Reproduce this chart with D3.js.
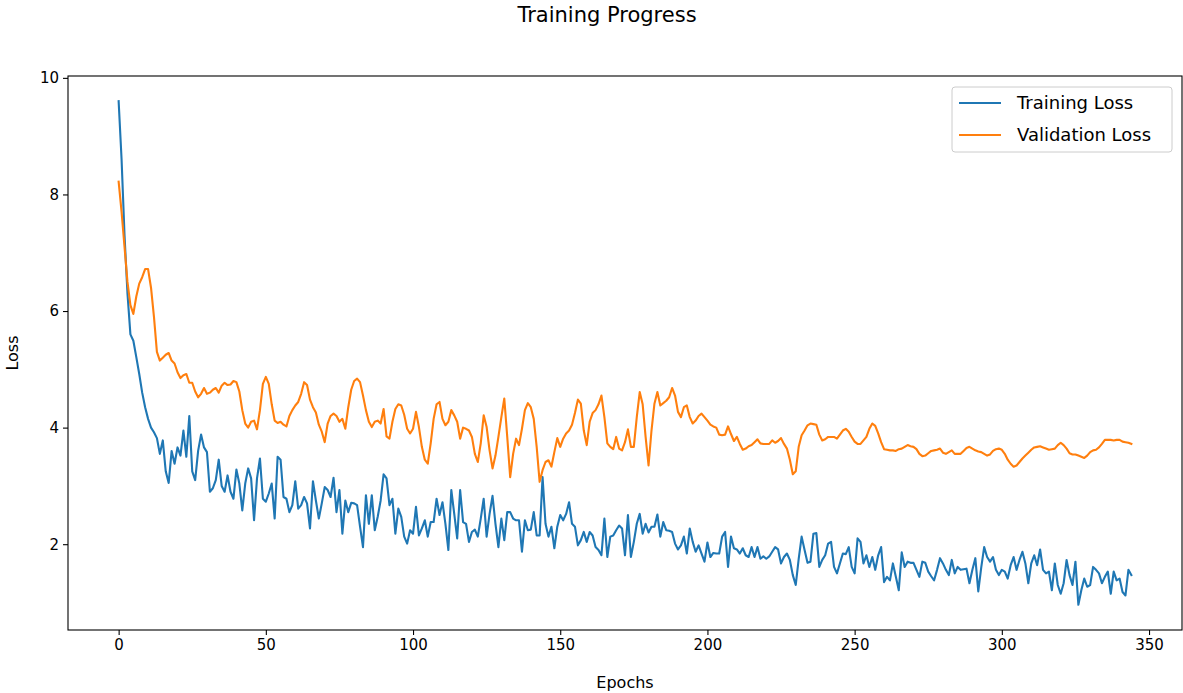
<!DOCTYPE html>
<html>
<head>
<meta charset="utf-8">
<script src="https://cdn.jsdelivr.net/npm/d3@7"></script>
<style>
  html, body { margin: 0; padding: 0; background: #fff; }
  svg { display: block; font-family: "DejaVu Sans", sans-serif; }
</style>
</head>
<body>
<svg id="chart" width="1183" height="693"></svg>
<script>
const titleText = "Training Progress";
const xLabel = "Epochs";
const yLabel = "Loss";
const seriesNames = ["Training Loss", "Validation Loss"];
const seriesColors = ["#1f77b4", "#ff7f0e"];
const xTicks = [0, 50, 100, 150, 200, 250, 300, 350];
const yTicks = [2, 4, 6, 8, 10];

const trainingLoss = [
9.6,8.6,7.3,6.3,5.6,5.49,5.21,4.92,4.6,4.35,
4.15,4.0,3.92,3.82,3.55,3.78,3.25,3.05,3.6,3.38,
3.66,3.52,3.95,3.5,4.2,3.25,3.1,3.6,3.88,3.66,
3.58,2.9,2.96,3.1,3.45,3.0,2.9,3.18,2.9,2.78,
3.28,3.04,2.58,3.04,3.3,3.13,2.41,3.13,3.47,2.78,
2.73,2.87,3.04,2.44,3.5,3.45,2.81,2.78,2.55,2.67,
3.08,2.61,2.67,2.81,2.7,2.27,3.08,2.75,2.44,2.7,
2.98,2.93,2.81,3.14,2.55,2.93,2.18,2.75,2.55,2.71,
2.7,2.67,2.3,1.95,2.84,2.35,2.84,2.24,2.47,2.75,
3.2,3.13,2.67,2.78,2.18,2.61,2.47,2.13,2.01,2.24,
2.18,2.64,2.15,2.27,2.41,2.13,2.38,2.38,2.78,2.5,
2.72,2.35,1.9,2.93,2.52,2.1,2.93,2.38,2.35,2.04,
2.21,2.25,2.13,2.44,2.78,2.13,2.52,2.83,2.35,1.95,
2.44,2.07,2.55,2.55,2.44,2.41,2.41,1.87,2.41,2.24,
2.25,2.55,2.15,2.15,3.15,2.35,2.13,2.3,1.93,2.3,
2.5,2.41,2.52,2.72,2.35,2.3,1.98,2.07,2.21,2.04,
2.21,2.15,1.95,1.9,1.81,2.44,1.78,2.13,2.15,2.24,
2.32,2.27,1.81,2.5,1.78,2.04,2.35,2.52,2.18,2.35,
2.2,2.3,2.3,2.51,2.13,2.38,2.24,2.23,2.21,2.01,
1.91,1.98,2.13,1.84,2.27,2.04,1.87,1.98,1.84,1.7,
2.03,1.78,1.85,1.84,1.84,2.13,2.21,1.61,2.13,1.93,
1.91,1.84,1.93,1.81,1.78,1.95,1.78,1.95,1.75,1.79,
1.75,1.79,1.87,1.95,1.91,1.67,1.78,1.84,1.73,1.47,
1.3,1.75,2.13,1.9,1.68,1.7,2.18,2.19,1.61,1.73,
1.81,2.01,2.04,1.61,1.5,1.67,1.84,1.83,1.95,1.61,
1.5,2.1,2.04,1.67,1.81,1.61,1.78,1.56,1.81,1.95,
1.35,1.44,1.38,1.67,1.44,1.21,1.86,1.61,1.7,1.68,
1.68,1.56,1.44,1.7,1.68,1.53,1.45,1.38,1.56,1.76,
1.67,1.56,1.47,1.73,1.5,1.61,1.56,1.57,1.58,1.33,
1.56,1.76,1.19,1.6,1.95,1.78,1.7,1.78,1.56,1.47,
1.56,1.53,1.41,1.64,1.78,1.56,1.73,1.87,1.67,1.33,
1.67,1.81,1.64,1.91,1.56,1.5,1.53,1.21,1.67,1.3,
1.15,1.33,1.73,1.47,1.3,1.7,0.96,1.21,1.41,1.27,
1.3,1.61,1.56,1.5,1.33,1.44,1.53,1.15,1.53,1.38,
1.41,1.18,1.12,1.56,1.47
];

const validationLoss = [
8.22,7.7,7.1,6.5,6.1,5.95,6.25,6.47,6.58,6.72,
6.72,6.4,5.9,5.3,5.15,5.2,5.25,5.28,5.15,5.1,
4.95,4.85,4.9,4.92,4.77,4.77,4.62,4.52,4.58,4.68,
4.58,4.6,4.65,4.68,4.6,4.72,4.77,4.73,4.74,4.8,
4.78,4.62,4.3,4.07,4.0,4.1,4.12,3.97,4.3,4.75,
4.87,4.75,4.4,4.12,4.08,4.1,4.05,4.02,4.2,4.3,
4.38,4.44,4.58,4.78,4.73,4.48,4.35,4.26,4.05,3.93,
3.75,4.07,4.2,4.24,4.2,4.1,4.15,3.98,4.35,4.65,
4.8,4.84,4.78,4.55,4.3,4.1,4.01,4.1,4.12,4.07,
4.32,3.85,3.81,4.1,4.32,4.4,4.38,4.22,3.98,3.9,
3.98,4.27,4.01,3.67,3.45,3.38,3.73,4.15,4.4,4.44,
4.15,4.04,4.1,4.3,4.21,4.1,3.81,4.0,3.98,3.95,
3.84,3.55,3.41,3.73,4.21,4.01,3.61,3.3,3.52,3.84,
4.18,4.5,3.84,3.15,3.55,3.81,3.7,3.98,4.3,4.42,
4.35,4.15,3.67,3.07,3.27,3.41,3.44,3.33,3.58,3.82,
3.67,3.81,3.9,3.95,4.05,4.25,4.48,4.41,3.95,3.7,
4.1,4.25,4.3,4.4,4.55,4.18,3.73,3.67,3.63,3.84,
3.64,3.61,3.75,3.97,3.67,3.67,4.18,4.61,4.4,3.84,
3.35,3.95,4.41,4.61,4.38,4.42,4.46,4.52,4.68,4.55,
4.27,4.18,4.35,4.38,4.18,4.07,4.12,4.2,4.24,4.18,
4.12,4.05,4.02,4.0,3.88,3.87,3.88,4.02,3.89,3.77,
3.84,3.72,3.62,3.64,3.68,3.7,3.75,3.8,3.73,3.72,
3.72,3.72,3.78,3.74,3.77,3.82,3.72,3.64,3.45,3.2,
3.25,3.67,3.87,3.95,4.04,4.07,4.06,4.05,3.88,3.78,
3.8,3.84,3.84,3.84,3.81,3.88,3.95,3.98,3.93,3.84,
3.76,3.72,3.72,3.78,3.84,3.98,4.07,4.03,3.9,3.75,
3.63,3.62,3.61,3.61,3.6,3.63,3.64,3.67,3.7,3.68,
3.67,3.63,3.55,3.51,3.52,3.56,3.6,3.61,3.62,3.64,
3.57,3.55,3.58,3.61,3.55,3.55,3.55,3.6,3.65,3.67,
3.64,3.61,3.59,3.58,3.55,3.52,3.54,3.6,3.63,3.64,
3.62,3.55,3.45,3.38,3.33,3.35,3.41,3.47,3.52,3.57,
3.62,3.66,3.67,3.68,3.66,3.64,3.62,3.63,3.64,3.7,
3.74,3.7,3.64,3.56,3.54,3.54,3.52,3.5,3.48,3.52,
3.58,3.61,3.62,3.66,3.72,3.79,3.79,3.79,3.78,3.79,
3.79,3.76,3.75,3.74,3.72
];

const epochs = trainingLoss.map((_, i) => i);

const svg = d3.select("#chart");
const W = 1183, H = 693;
const margin = { left: 68, right: 1, top: 76, bottom: 63 };
const plotL = margin.left, plotR = W - margin.right, plotT = margin.top, plotB = H - margin.bottom;

const allVals = trainingLoss.concat(validationLoss);
const xMin = d3.min(epochs), xMax = d3.max(epochs);
const yMin = d3.min(allVals), yMax = d3.max(allVals);
const xPad = (xMax - xMin) * 0.05, yPad = (yMax - yMin) * 0.05;

const x = d3.scaleLinear().domain([xMin - xPad, xMax + xPad]).range([plotL, plotR]);
const y = d3.scaleLinear().domain([yMin - yPad, yMax + yPad]).range([plotB, plotT]);

const tickFont = 15;

// Lines
const series = [trainingLoss, validationLoss];
const line = d3.line().x((d, i) => x(epochs[i])).y(d => y(d));
const clip = svg.append("clipPath").attr("id", "clip").append("rect")
  .attr("x", plotL).attr("y", plotT).attr("width", plotR - plotL).attr("height", plotB - plotT);
const lines = svg.append("g").attr("clip-path", "url(#clip)");
series.forEach((s, k) => {
  lines.append("path").datum(s)
    .attr("d", line)
    .attr("fill", "none")
    .attr("stroke", seriesColors[k])
    .attr("stroke-width", 2.1)
    .attr("stroke-linejoin", "round")
    .attr("stroke-linecap", "square");
});

// Axes
const xAxis = d3.axisBottom(x).tickValues(xTicks).tickSize(5).tickPadding(4).tickFormat(d3.format("d"));
const yAxis = d3.axisLeft(y).tickValues(yTicks).tickSize(5).tickPadding(4).tickFormat(d3.format("d"));

const gx = svg.append("g").attr("transform", `translate(0,${plotB})`).call(xAxis);
const gy = svg.append("g").attr("transform", `translate(${plotL},0)`).call(yAxis);
[gx, gy].forEach(g => {
  g.select(".domain").remove();
  g.selectAll(".tick line").attr("stroke", "#000").attr("stroke-width", 1.1);
  g.selectAll(".tick text").attr("fill", "#000").style("font-size", tickFont + "px")
    .style("font-family", "'DejaVu Sans', sans-serif");
});

// Frame
svg.append("rect")
  .attr("x", plotL).attr("y", plotT)
  .attr("width", plotR - plotL).attr("height", plotB - plotT)
  .attr("fill", "none").attr("stroke", "#000").attr("stroke-width", 1.1);

// Title & labels
svg.append("text").attr("x", 607).attr("y", 22)
  .attr("text-anchor", "middle").style("font-size", "21px").text(titleText);
svg.append("text").attr("x", (plotL + plotR) / 2).attr("y", 688)
  .attr("text-anchor", "middle").style("font-size", "16px").text(xLabel);
svg.append("text")
  .attr("transform", `translate(18,${(plotT + plotB) / 2}) rotate(-90)`)
  .attr("text-anchor", "middle").style("font-size", "16px").text(yLabel);

// Legend
const lg = svg.append("g");
const lgX = 952, lgY = 87, lgW = 220, lgH = 65;
lg.append("rect").attr("x", lgX).attr("y", lgY).attr("width", lgW).attr("height", lgH)
  .attr("rx", 3).attr("fill", "#fff").attr("fill-opacity", 0.8)
  .attr("stroke", "#ccc").attr("stroke-width", 1);
seriesNames.forEach((name, k) => {
  const cy = lgY + 16 + k * 32;
  lg.append("line").attr("x1", lgX + 7).attr("x2", lgX + 49).attr("y1", cy).attr("y2", cy)
    .attr("stroke", seriesColors[k]).attr("stroke-width", 2.1);
  lg.append("text").attr("x", lgX + 65).attr("y", cy).attr("dy", "0.36em")
    .style("font-size", "18px").text(name);
});
</script>
</body>
</html>
